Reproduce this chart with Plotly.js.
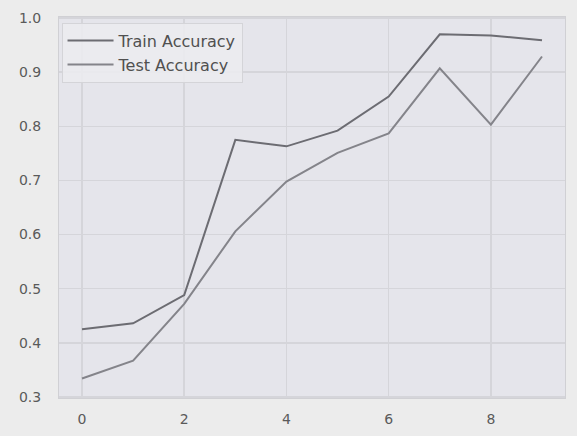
<!DOCTYPE html>
<html>
<head>
<meta charset="utf-8">
<script src="https://cdn.plot.ly/plotly-3.0.1.min.js"></script>
<style>html,body{margin:0;padding:0;background:#ececec;}#chart{width:577px;height:436px;}</style>
</head>
<body>
<div id="chart"></div>
<script>
const epochs = [0, 1, 2, 3, 4, 5, 6, 7, 8, 9];
const trainAccuracy = [0.425, 0.436, 0.488, 0.775, 0.763, 0.792, 0.855, 0.970, 0.968, 0.959];
const testAccuracy = [0.334, 0.367, 0.472, 0.606, 0.698, 0.751, 0.787, 0.907, 0.803, 0.929];
const seriesNames = ["Train Accuracy", "Test Accuracy"];
const xTicks = [0, 2, 4, 6, 8];
const yTicks = [0.3, 0.4, 0.5, 0.6, 0.7, 0.8, 0.9, 1.0];
const yTickText = ["0.3", "0.4", "0.5", "0.6", "0.7", "0.8", "0.9", "1.0"];

const traces = [
  {x: epochs, y: trainAccuracy, name: seriesNames[0], mode: "lines", line: {color: "#6c6c72", width: 2}},
  {x: epochs, y: testAccuracy, name: seriesNames[1], mode: "lines", line: {color: "#84848a", width: 2}}
];

const layout = {
  width: 577, height: 436,
  paper_bgcolor: "#ececec",
  plot_bgcolor: "#e5e5eb",
  margin: {l: 59, r: 12, t: 17, b: 38},
  font: {family: "DejaVu Sans", color: "#5a5a5a", size: 14},
  showlegend: true,
  legend: {x: 0.005, y: 0.985, xanchor: "left", yanchor: "top", bgcolor: "rgba(236,236,240,0.85)", bordercolor: "#d4d4d8", borderwidth: 1, font: {size: 16, color: "#505050"}, tracegroupgap: 0, itemwidth: 46},
  xaxis: {range: [-0.45, 9.45], tickvals: xTicks, ticktext: xTicks.map(String), showgrid: true, gridcolor: "#d5d5da", gridwidth: 1.5, zeroline: false, showline: true, linecolor: "#d0d0d4", mirror: true, ticks: "", ticklen: 0, ticklabelstandoff: 8},
  yaxis: {range: [0.298, 1.002], tickvals: yTicks, ticktext: yTickText, showgrid: true, gridcolor: "#d5d5da", gridwidth: 1.5, zeroline: false, showline: true, linecolor: "#d0d0d4", mirror: true, ticks: "", ticklen: 0, ticklabelstandoff: 14}
};

Plotly.newPlot("chart", traces, layout, {displayModeBar: false, staticPlot: true});
</script>
</body>
</html>
